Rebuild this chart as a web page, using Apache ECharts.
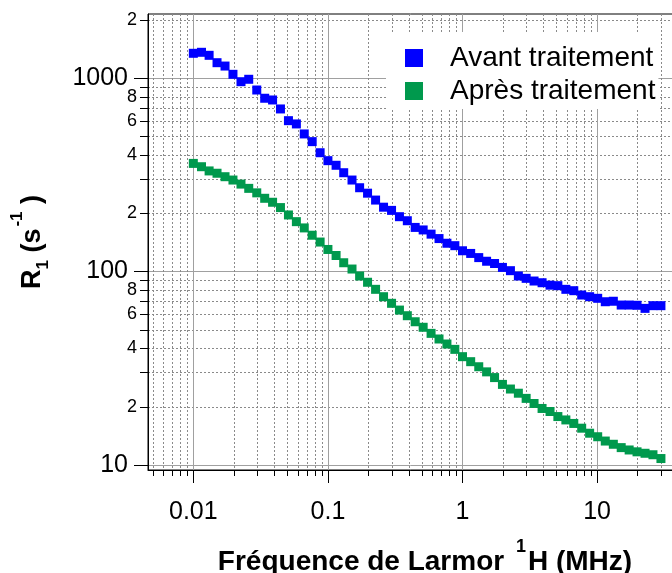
<!DOCTYPE html>
<html><head><meta charset="utf-8">
<script src="https://cdn.jsdelivr.net/npm/echarts@6/dist/echarts.min.js"></script>
<style>html,body{margin:0;padding:0;background:#fff}#c{width:672px;height:573px}</style>
</head><body><div id="c"></div>
<script>
// Larmor frequency (MHz)
const freq = [0.0100,0.0115,0.0131,0.0150,0.0172,0.0197,0.0226,0.0258,0.0296,0.0339,
  0.0388,0.0444,0.0509,0.0583,0.0667,0.0764,0.0875,0.100,0.115,0.131,
  0.151,0.172,0.197,0.226,0.259,0.297,0.340,0.389,0.445,0.510,
  0.584,0.669,0.766,0.877,1.00,1.15,1.32,1.51,1.73,1.98,
  2.27,2.60,2.97,3.40,3.90,4.47,5.11,5.86,6.71,7.68,
  8.80,10.1,11.5,13.2,15.1,17.3,19.8,22.7,26.0,29.8];
// R1 (s-1) before treatment
const avant = [1342,1358,1310,1200,1153,1045,957,985,867,786,
  770,692,602,579,514,469,411,374,354,324,
  297,271,254,234,215,207,192,183,169,164,
  156,148,140,136,128,124,118,113,110,105,
  101,94.8,92.2,89.3,87.5,85.0,84.5,80.9,79.6,75.6,
  74.1,72.7,69.8,70.2,67.1,67.1,66.9,64.5,66.6,66.6];
// R1 (s-1) after treatment
const apres = [362,348,331,322,309,297,283,269,255,239,
  228,214,196,181,168,154,142,130,121,111,
  103,94.8,88.0,80.9,74.1,68.5,63.2,59.1,55.0,51.5,
  47.9,44.8,42.2,39.6,36.3,34.2,32.2,30.3,28.3,26.1,
  24.7,23.5,22.1,20.8,19.6,18.9,17.8,17.1,16.4,15.5,
  14.6,14.0,13.3,12.8,12.3,11.96,11.7,11.5,11.3,10.8];
const seriesNames = ['Avant traitement', 'Après traitement'];
const xMajorTicks = [0.01, 0.1, 1, 10];
const xMinorTicks = [0.005,0.006,0.007,0.008,0.009,
  0.02,0.03,0.04,0.05,0.06,0.07,0.08,0.09,
  0.2,0.3,0.4,0.5,0.6,0.7,0.8,0.9,
  2,3,4,5,6,7,8,9,20,30];
const yMajorTicks = [10, 100, 1000];
const yMinorTicks = [20,30,40,50,60,70,80,90,200,300,400,500,600,700,800,900,2000];
const yMinorLabels = [20,40,60,80,200,400,600,800,2000];
const xRange = [0.004605, 36.63];
const yRange = [9.424, 2142];

const FONT = '"Liberation Sans", Arial, sans-serif';
const fmt = v => String(parseFloat(Number(v).toPrecision(6)));
const firstDigit = v => fmt(v).charAt(0);

const chart = echarts.init(document.getElementById('c'));
const common = (range) => ({type: 'log', logBase: 10, min: range[0], max: range[1]});

chart.setOption({
  animation: false,
  backgroundColor: '#fff',
  grid: {left: 148, top: 14, right: -1, bottom: 103, containLabel: false, outerBoundsMode: 'none',
    show: true, borderColor: '#000', borderWidth: 1, backgroundColor: 'transparent'},
  legend: {
    orient: 'vertical', left: 386, top: 32, padding: [12, 3, 4, 19], itemGap: 5,
    itemWidth: 18, itemHeight: 18, icon: 'rect', backgroundColor: '#fff',
    textStyle: {fontSize: 28, color: '#000', fontFamily: FONT, padding: [0, 0, 0, 22]},
    data: seriesNames
  },
  xAxis: [
    Object.assign(common(xRange), {
      position: 'bottom',
      axisLine: {show: true, onZero: false, lineStyle: {color: '#000', width: 1}},
      axisTick: {show: true, customValues: xMajorTicks, length: 13, lineStyle: {color: '#000', width: 1}},
      axisLabel: {customValues: xMajorTicks, formatter: fmt, fontSize: 25, color: '#000', margin: 30, fontFamily: FONT},
      splitLine: {show: true, lineStyle: {color: '#a0a0a0', width: 1}},
      name: '{b|Fréquence de Larmor }{sup|1}{b|H (MHz)}',
      nameLocation: 'middle', nameGap: 74,
      nameTextStyle: {
        padding: [0, 0, 0, 29],
        rich: {
          b: {fontSize: 28, fontWeight: 'bold', fontFamily: FONT, color: '#000', verticalAlign: 'bottom', lineHeight: 32},
          sup: {fontSize: 18, fontWeight: 'bold', fontFamily: FONT, color: '#000', verticalAlign: 'bottom', lineHeight: 18, padding: [0, 2, 20, 4]}
        }
      }
    }),
    Object.assign(common(xRange), {
      position: 'bottom',
      axisLine: {show: false},
      axisTick: {show: true, customValues: xMinorTicks, length: 6, lineStyle: {color: '#000', width: 1}},
      axisLabel: {show: false},
      splitLine: {show: true, lineStyle: {color: '#8a8a8a', width: 1, type: [2, 2]}}
    })
  ],
  yAxis: [
    Object.assign(common(yRange), {
      position: 'left',
      axisLine: {show: true, onZero: false, lineStyle: {color: '#000', width: 1}},
      axisTick: {show: true, customValues: yMajorTicks, length: 14, lineStyle: {color: '#000', width: 1}},
      axisLabel: {customValues: yMajorTicks, formatter: fmt, fontSize: 25, color: '#000', margin: 20, fontFamily: FONT},
      splitLine: {show: true, lineStyle: {color: '#a0a0a0', width: 1}},
      name: '{b|R}{sub|1}{b| (s}{sup|-1}{b| )}',
      nameLocation: 'middle', nameRotate: 90, nameGap: 96,
      nameTextStyle: {
        rich: {
          b: {fontSize: 27, fontWeight: 'bold', fontFamily: FONT, color: '#000', verticalAlign: 'bottom', lineHeight: 28, padding: [0, 0, 6, 0]},
          sub: {fontSize: 17, fontWeight: 'bold', fontFamily: FONT, color: '#000', verticalAlign: 'bottom', lineHeight: 17},
          sup: {fontSize: 17, fontWeight: 'bold', fontFamily: FONT, color: '#000', verticalAlign: 'bottom', lineHeight: 17, padding: [0, 0, 26, 2]}
        }
      }
    }),
    Object.assign(common(yRange), {
      position: 'left',
      axisLine: {show: false},
      axisTick: {show: true, customValues: yMinorTicks, length: 8, lineStyle: {color: '#000', width: 1}},
      axisLabel: {customValues: yMinorLabels, formatter: firstDigit, fontSize: 18, color: '#000', margin: 11, fontFamily: FONT},
      splitLine: {show: true, lineStyle: {color: '#8a8a8a', width: 1, type: [2, 2]}}
    })
  ],
  series: [
    {name: seriesNames[0], type: 'scatter', symbol: 'rect', symbolSize: 9, xAxisIndex: 0, yAxisIndex: 0,
      itemStyle: {color: '#0000ff', opacity: 1}, data: freq.map((f, i) => [f, avant[i]])},
    {name: seriesNames[1], type: 'scatter', symbol: 'rect', symbolSize: 9, xAxisIndex: 0, yAxisIndex: 0,
      itemStyle: {color: '#00994d', opacity: 1}, data: freq.map((f, i) => [f, apres[i]])}
  ]
});
</script>
</body></html>
